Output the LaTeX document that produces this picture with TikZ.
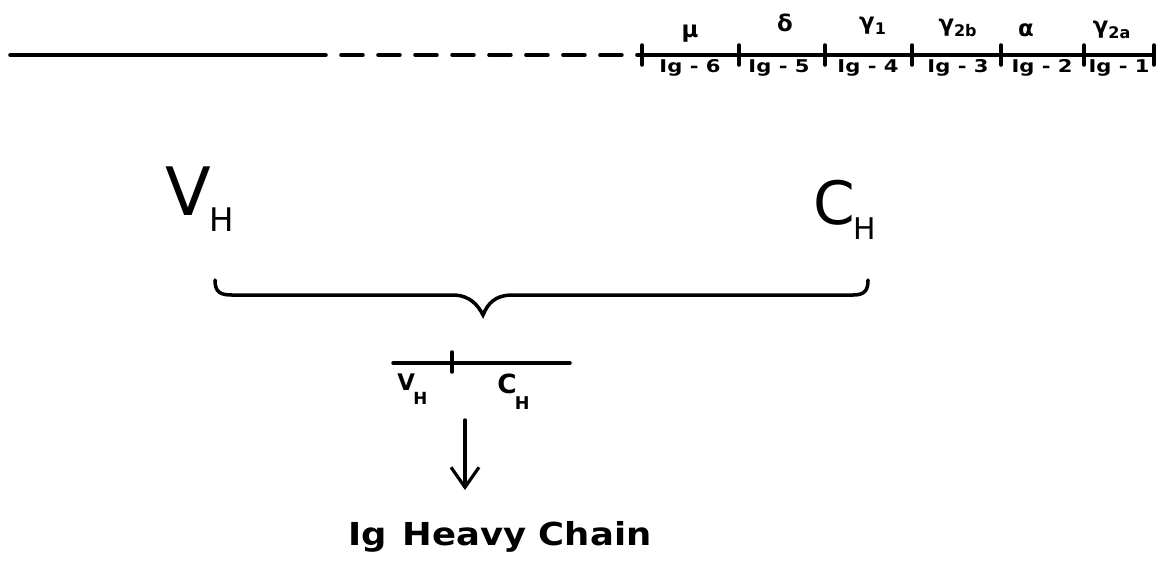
\documentclass[tikz,border=0pt]{standalone}
\usepackage{fontspec}
\setmainfont{DejaVu Sans}
\newfontfamily\wideface{DejaVu Sans}[FakeStretch=1.12]
\newfontfamily\widerface{DejaVu Sans}[FakeStretch=1.2]
\usetikzlibrary{arrows.meta}
% lowered subscript H of a handwritten label: size, drop
\newcommand{\subH}[2]{\kern-1pt\raisebox{-#2}{\fontsize{#1}{#1}\selectfont H}}
\begin{document}
\begin{tikzpicture}[
            x=0.02cm, y=-0.02cm,
            line cap=round,
            >={Straight Barb[length=4mm, width=5.6mm, line width=1.8pt]},
            map line/.style={line width=2pt},
            map dashed/.style={line width=2pt, dash pattern=on 4.4mm off 3mm},
            tick mark/.style={line width=2pt},
            gene label/.style={font=\widerface\bfseries\fontsize{10}{12}\selectfont, inner sep=0pt},
            chain label/.style={font=\bfseries\fontsize{13}{15}\selectfont, inner sep=0pt},
            region label/.style={inner sep=0pt, anchor=base west},
            title label/.style={font=\wideface\bfseries\fontsize{18}{21}\selectfont, inner sep=0pt, anchor=base},
        ]
        \useasboundingbox (0,0) rectangle (1165,562);

        % The heavy-chain locus, with the constant-region cluster at its end.
        \coordinate (locus start) at (10,55);
        \coordinate (dash start) at (304,55);
        \coordinate (cluster start) at (642,55);
        \coordinate (cluster end) at (1154,55);
        \draw[map line] (locus start) -- (dash start);
        \draw[map dashed] (dash start) -- (cluster start);
        \draw[map line] (cluster start) -- (cluster end);
        \foreach \tx in {642,739,825,912,1001,1084,1154}
            \draw[tick mark] (\tx,45) -- (\tx,65);

        % Gene names below the line, chain classes above it.
        \foreach \gx/\num/\cx/\cy/\chain in {690/6/690/34/{μ}, 779/5/785/23/{δ},
                868/4/873/26/{γ\textsubscript{1}}, 958/3/958/28/{γ\textsubscript{2b}},
                1042/2/1026/30/{α}, 1119/1/1112/30/{γ\textsubscript{2a}}} {
            \node[gene label] (ig\num) at (\gx,68) {Ig - \num};
            \node[chain label] (chain\num) at (\cx,\cy) {\chain};
        }

        % Variable and constant regions joined by the brace.
        \node[region label, font=\fontsize{38}{40}\selectfont] (VH) at (165,215) {V\subH{18.5}{9.6pt}};
        \node[region label, font=\fontsize{34}{36}\selectfont] (CH) at (813,224) {C\subH{17}{9pt}};
        \coordinate (brace left) at (215,280);
        \coordinate (brace tip) at (483,315);
        \coordinate (brace right) at (868,280);
        \draw[map line] (brace left) .. controls (215,292) and (220,295) .. (232,295)
            -- (455,295) .. controls (470,296) and (478,305) .. (brace tip)
            .. controls (488,303) and (495,296) .. (510,295)
            -- (853,295) .. controls (865,295) and (868,290) .. (brace right);

        % The joined gene.
        \coordinate (gene left) at (393,363);
        \coordinate (gene right) at (570,363);
        \draw[map line] (gene left) -- (gene right);
        \draw[tick mark] (452,352) -- (452,372);
        \node[region label, font=\bfseries\fontsize{13}{15}\selectfont] (vh) at (397,390) {V\subH{9.5}{8.5pt}};
        \node[region label, font=\bfseries\fontsize{15}{17}\selectfont] (ch) at (497,393) {C\subH{10}{9.6pt}};

        \node[title label] (chain) at (500,545) {Ig\enspace Heavy Chain};
        \coordinate (arrow top) at (465,420);
        \coordinate (arrow tip) at (465,490);
        \draw[map line, ->] (arrow top) -- (arrow tip);
        \end{tikzpicture}
\end{document}
